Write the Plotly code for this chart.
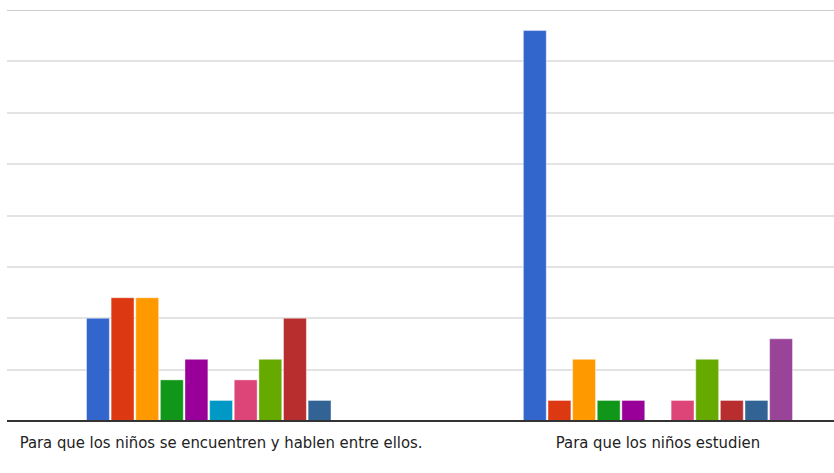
import plotly.graph_objects as go

categories = ["Para que los niños se encuentren y hablen entre ellos.", "Para que los niños estudien"]
series_names = ["Serie 1", "Serie 2", "Serie 3", "Serie 4", "Serie 5", "Serie 6",
                "Serie 7", "Serie 8", "Serie 9", "Serie 10", "Serie 11"]
series_values = [
    [5, 19],
    [6, 1],
    [6, 3],
    [2, 1],
    [3, 1],
    [1, 0],
    [2, 1],
    [3, 3],
    [5, 1],
    [1, 1],
    [0, 4],
]
colors = ["#3366cc", "#dc3912", "#ff9900", "#109618", "#990099", "#0099c6",
          "#dd4477", "#66aa00", "#b82e2e", "#316395", "#994499"]

fig = go.Figure()
for name, vals, col in zip(series_names, series_values, colors):
    fig.add_trace(go.Bar(name=name, x=categories, y=vals, marker_color=col,
                         marker_line_width=0.6, marker_line_color="rgba(255,255,255,0.7)"))

fig.update_layout(
    width=834, height=473,
    margin=dict(l=7, r=0, t=10, b=52, autoexpand=False),
    barmode="group", bargap=0.38, bargroupgap=0.07,
    plot_bgcolor="white", paper_bgcolor="white",
    showlegend=False,
    font=dict(family="DejaVu Sans Condensed, Liberation Sans Narrow, Liberation Sans, sans-serif",
              size=16.5, color="#222222"),
)
fig.update_xaxes(range=[-0.49, 1.403], showgrid=False, ticks="", showline=False,
                 automargin=False, ticklabelstandoff=9, tickfont=dict(size=16.5, color="#222222"))
fig.update_yaxes(range=[0, 20], dtick=2.5, showticklabels=False, gridcolor="#e3e3e3",
                 gridwidth=1.5, zeroline=True, zerolinecolor="#333333", zerolinewidth=2,
                 automargin=False, fixedrange=True)
fig.add_shape(type="line", xref="paper", yref="y", x0=0, x1=1, y0=20, y1=20,
              line=dict(color="#cccccc", width=2), layer="below")
fig.add_shape(type="line", xref="paper", yref="y", x0=0, x1=1, y0=0, y1=0,
              line=dict(color="#333333", width=2), layer="above")

fig.write_html("out.html", config={"displayModeBar": False},
               post_script="document.body.style.margin='0px';document.body.style.overflow='hidden';")
